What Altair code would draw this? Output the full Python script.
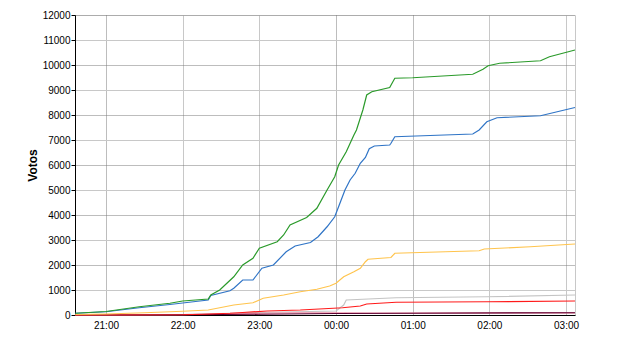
import altair as alt
import pandas as pd

# ---- data (time HH:MM, votes) ----
green_t = ["20:36","21:00","21:26","21:50","22:00","22:20","22:22","22:29","22:40","22:47","22:55","23:00",
           "23:14","23:19","23:24","23:37","23:45","23:53","23:59","00:02","00:08","00:14","00:16","00:21",
           "00:24","00:28","00:42","00:46","01:00","01:47","01:55","01:59","02:08","02:40","02:47","03:07"]
green_v = [70,140,330,470,560,640,800,1000,1530,2000,2270,2670,
           2930,3200,3600,3900,4270,5000,5530,6000,6530,7200,7400,8200,
           8800,8930,9100,9470,9490,9630,9830,9970,10070,10170,10330,10600]

blue_t = ["20:36","21:00","21:26","21:50","22:00","22:20","22:22","22:37","22:40","22:47","22:55","23:02",
          "23:11","23:21","23:28","23:40","23:46","23:53","23:59","00:02","00:07","00:11","00:15","00:19",
          "00:23","00:26","00:30","00:42","00:43","00:46","01:47","01:52","01:58","02:06","02:40","03:07"]
blue_v = [70,130,290,420,480,600,780,970,1070,1400,1400,1870,
          2000,2530,2760,2900,3130,3530,3930,4330,5000,5400,5670,6070,
          6300,6650,6760,6800,6870,7130,7240,7400,7730,7890,7970,8300]

yellow_t = ["20:36","21:00","21:30","22:00","22:20","22:40","22:55","23:03","23:19","23:32","23:45","23:55",
            "00:00","00:06","00:14","00:19","00:23","00:25","00:43","00:46","01:52","01:56","02:32","03:07"]
yellow_v = [20,40,90,150,200,400,490,670,800,930,1030,1160,
            1270,1530,1730,1870,2130,2230,2300,2470,2570,2640,2730,2840]

gray_t = ["20:36","22:00","22:30","23:00","23:30","00:00","00:06","00:08","00:47","01:58","03:07"]
gray_v = [0,20,60,100,130,160,400,600,690,730,800]

red_t = ["20:36","22:00","22:15","22:37","22:47","23:06","23:32","23:58","00:05","00:19","00:24","00:47","01:58","03:07"]
red_v = [0,10,30,70,100,160,200,270,290,360,440,510,530,560]

pink_t = ["20:36","22:00","22:30","23:00","23:30","00:00","00:30","03:07"]
pink_v = [0,15,40,70,90,90,80,85]

maroon_t = ["20:36","22:00","23:00","00:00","01:00","03:07"]
maroon_v = [0,10,30,60,70,90]

series = [
    ("Gris", gray_t, gray_v, "#C4C4C4"),
    ("Rosa", pink_t, pink_v, "#F090A8"),
    ("Granate", maroon_t, maroon_v, "#5C0030"),
    ("Rojo", red_t, red_v, "#FF1A1A"),
    ("Amarillo", yellow_t, yellow_v, "#FFC44D"),
    ("Azul", blue_t, blue_v, "#2F74C6"),
    ("Verde", green_t, green_v, "#2A9A2A"),
]

def to_ts(hm):
    h, m = map(int, hm.split(":"))
    day = 22 if h >= 12 else 23
    return f"2011-05-{day:02d}T{h:02d}:{m:02d}:00"

rows = []
for order, (name, ts, vs, _) in enumerate(series):
    for t, v in zip(ts, vs):
        rows.append({"serie": name, "hora": to_ts(t), "votos": v, "orden": order})
df = pd.DataFrame(rows)

names = [s[0] for s in series]
colors = [s[3] for s in series]

x_vals = [alt.DateTime(year=2011, month=5, date=22, hours=h) for h in (21, 22, 23)] + \
         [alt.DateTime(year=2011, month=5, date=23, hours=h) for h in (0, 1, 2, 3)] + \
         [alt.DateTime(year=2011, month=5, date=23, hours=3, minutes=7)]

x_axis = alt.Axis(
    values=x_vals, format="%H:%M", title=None, ticks=False, labelPadding=5,
    labelExpr="minutes(datum.value) === 0 ? datum.label : ''",
    grid=True,
    gridColor={"condition": {"test": "hours(datum.value) === 21 || hours(datum.value) <= 1", "value": "#7A7A7A"}, "value": "#C8C8C8"},
    gridDash={"condition": {"test": "hours(datum.value) === 21 || hours(datum.value) <= 1", "value": [1, 1]}, "value": []},
    domainColor="black",
)
y_axis = alt.Axis(
    values=list(range(0, 12001, 1000)), format="d", title="Votos", tickSize=4, tickColor="black",
    labelPadding=1, titlePadding=3, titleFontWeight="bold", titleFontSize=12,
    grid=True,
    gridColor={"condition": {"test": "datum.value % 2000 === 0", "value": "#7A7A7A"}, "value": "#C8C8C8"},
    gridDash={"condition": {"test": "datum.value % 2000 === 0", "value": [1, 1]}, "value": []},
    domainColor="black",
)

chart = alt.Chart(df).mark_line(strokeWidth=1.2, interpolate="linear").encode(
    x=alt.X("hora:T", axis=x_axis,
            scale=alt.Scale(domain=[alt.DateTime(year=2011, month=5, date=22, hours=20, minutes=35, seconds=45),
                                    alt.DateTime(year=2011, month=5, date=23, hours=3, minutes=7)], nice=False)),
    y=alt.Y("votos:Q", axis=y_axis, scale=alt.Scale(domain=[0, 12000], nice=False)),
    color=alt.Color("serie:N", scale=alt.Scale(domain=names, range=colors), legend=None),
    order=alt.Order("orden:Q"),
    detail="serie:N",
).properties(
    width=500, height=300,
    autosize=alt.AutoSizeParams(type="none"),
    padding={"left": 75, "top": 15, "right": 65, "bottom": 35},
).configure_view(stroke=None).configure_axis(
    labelFont="Liberation Sans", labelFontSize=12, labelColor="black",
    titleFont="Liberation Sans", titleColor="black",
).configure(background="white")

chart.save("out.html", embed_options={"renderer": "svg", "actions": False})
